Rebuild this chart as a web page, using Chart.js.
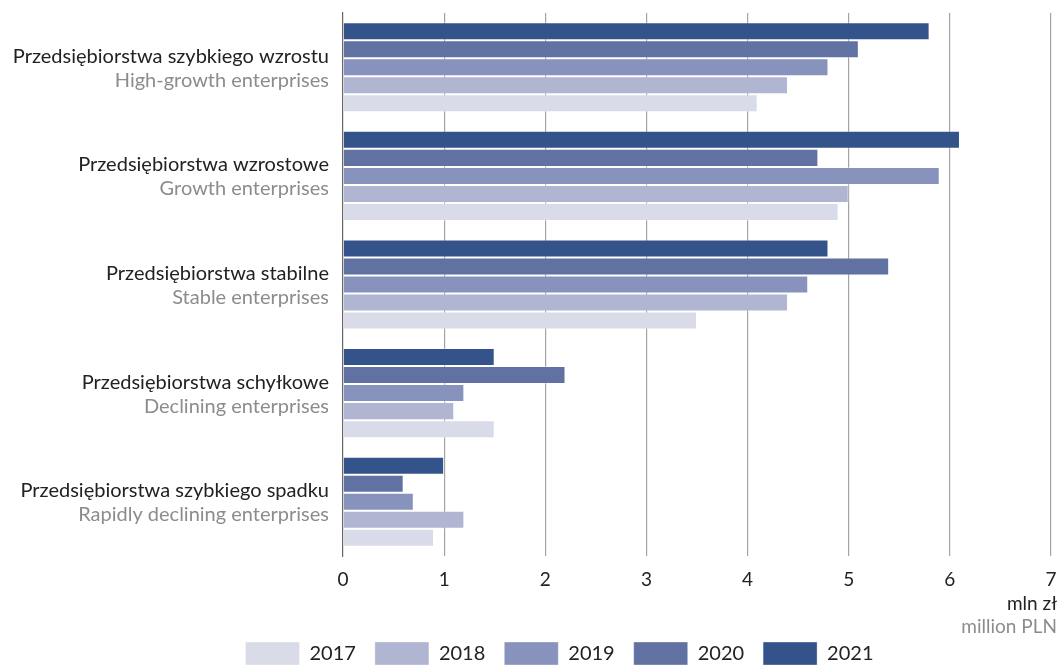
<!DOCTYPE html>
<html>
<head>
<meta charset="utf-8">
<script src="https://cdn.jsdelivr.net/npm/chart.js@4"></script>
<style>
  html, body { margin: 0; padding: 0; background: #fff; }
  #wrap { width: 1059px; height: 665px; }
</style>
</head>
<body>
<div id="wrap"><canvas id="chart"></canvas></div>
<script>
// category labels: Polish (black) and English (grey)
const labelsPl = [
    'Przedsiębiorstwa szybkiego wzrostu',
    'Przedsiębiorstwa wzrostowe',
    'Przedsiębiorstwa stabilne',
    'Przedsiębiorstwa schyłkowe',
    'Przedsiębiorstwa szybkiego spadku'
];
const labelsEn = [
    'High-growth enterprises',
    'Growth enterprises',
    'Stable enterprises',
    'Declining enterprises',
    'Rapidly declining enterprises'
];

// values in mln zł
const v2017 = [4.1, 4.9, 3.5, 1.5, 0.9];
const v2018 = [4.4, 5.0, 4.4, 1.1, 1.2];
const v2019 = [4.8, 5.9, 4.6, 1.2, 0.7];
const v2020 = [5.1, 4.7, 5.4, 2.2, 0.6];
const v2021 = [5.8, 6.1, 4.8, 1.5, 1.0];

const xTicks = [0, 1, 2, 3, 4, 5, 6, 7];
const axisTitle = ['mln zł', 'million PLN'];

const FONT = 'Lato, "Noto Sans", sans-serif';

// 2021 first so it sits on top in each group
const series = [
    { label: '2021', data: v2021, color: '#34538b' },
    { label: '2020', data: v2020, color: '#6171a2' },
    { label: '2019', data: v2019, color: '#8893bd' },
    { label: '2018', data: v2018, color: '#b0b5d2' },
    { label: '2017', data: v2017, color: '#d9dbe8' }
];

const datasets = series.map(s => ({
    label: s.label,
    data: s.data,
    backgroundColor: s.color,
    borderColor: 'rgba(255,255,255,0.35)',
    borderWidth: 1,
    categoryPercentage: 0.83,
    barPercentage: 1.0
}));

// draws the two-colour category labels and the axis unit,
// and nudges the legend a bit right like in the original
const textPlugin = {
    id: 'textPlugin',
    afterLayout(chart) {
        chart.legend.left += 34;
        chart.legend.right += 34;
    },
    afterDraw(chart) {
        const ctx = chart.ctx;
        const yScale = chart.scales.y;
        const area = chart.chartArea;
        ctx.save();
        ctx.textAlign = 'right';
        ctx.textBaseline = 'middle';
        ctx.font = '20px ' + FONT;
        labelsPl.forEach((txt, i) => {
            const y = yScale.getPixelForValue(i);
            ctx.fillStyle = '#222';
            ctx.fillText(txt, area.left - 14, y - 11);
            ctx.fillStyle = '#8c8c8c';
            ctx.fillText(labelsEn[i], area.left - 14, y + 13);
        });
        const xRight = chart.width - 2;
        ctx.font = '19px ' + FONT;
        ctx.fillStyle = '#222';
        ctx.fillText(axisTitle[0], xRight, area.bottom + 48);
        ctx.fillStyle = '#8c8c8c';
        ctx.fillText(axisTitle[1], xRight, area.bottom + 71);
        ctx.restore();
    }
};

new Chart(document.getElementById('chart'), {
    type: 'bar',
    data: {
        labels: labelsPl,
        datasets: datasets
    },
    options: {
        indexAxis: 'y',
        responsive: true,
        maintainAspectRatio: false,
        animation: false,
        layout: {
            padding: { left: 0, top: 13, right: 8, bottom: -10 }
        },
        plugins: {
            legend: {
                position: 'bottom',
                reverse: true,
                labels: {
                    boxWidth: 54,
                    boxHeight: 23,
                    padding: 19,
                    color: '#222',
                    font: { family: FONT, size: 20 }
                }
            },
            tooltip: { enabled: false }
        },
        scales: {
            x: {
                min: 0,
                max: 7,
                afterBuildTicks: scale => {
                    scale.ticks = xTicks.map(v => ({ value: v }));
                },
                afterFit: scale => { scale.height = 67; },
                ticks: {
                    color: '#222',
                    padding: 0,
                    font: { family: FONT, size: 19 }
                },
                grid: {
                    drawTicks: true,
                    tickLength: 12,
                    tickColor: 'rgba(0,0,0,0)',
                    color: ctx => ctx.tick && ctx.tick.value === 0 ? 'rgba(0,0,0,0)' : '#a3a3a3',
                    lineWidth: 1.2
                },
                border: { display: false }
            },
            y: {
                afterFit: scale => { scale.width = 343; },
                ticks: { display: false },
                grid: { display: false },
                border: { display: true, color: '#666', width: 1.2 }
            }
        }
    },
    plugins: [textPlugin]
});
</script>
</body>
</html>
